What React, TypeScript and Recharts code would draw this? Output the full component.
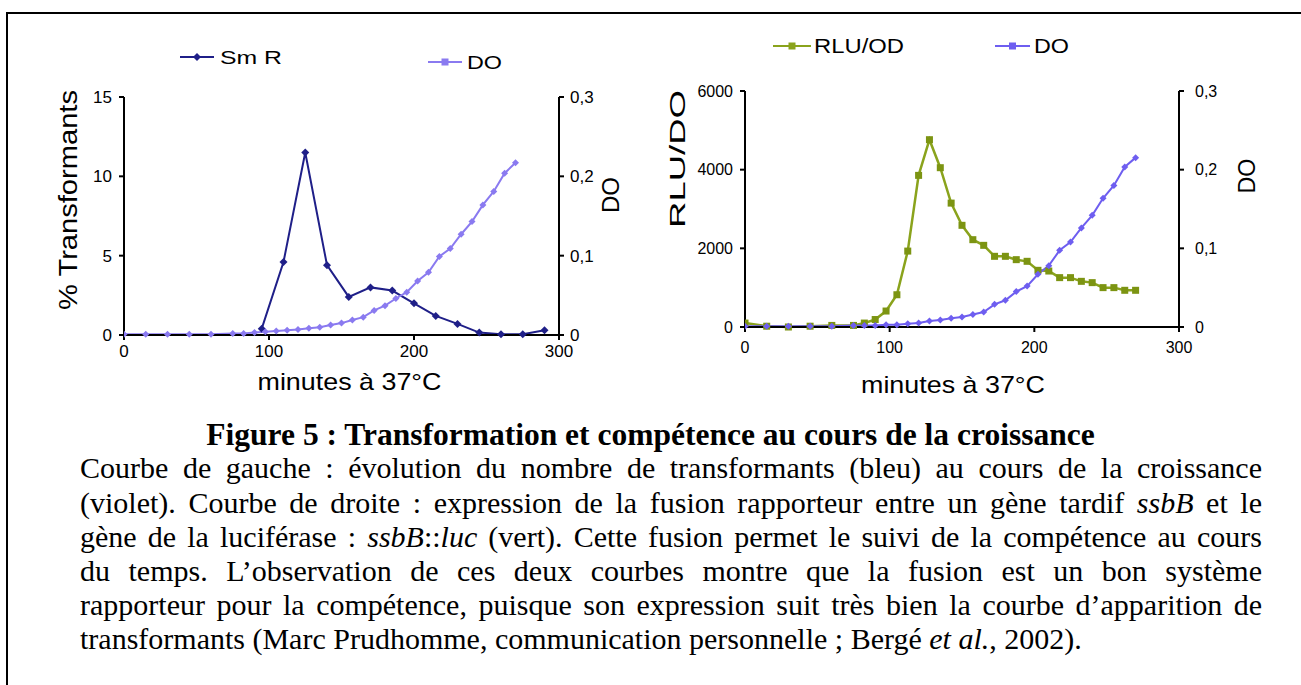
import React from 'react';
import { LineChart, Line, XAxis, YAxis, Legend, Label } from 'recharts';

// ---------- data ----------
const minutesDO = [0, 15, 30, 45, 60, 75, 82.5, 90, 97.5, 105, 112.5, 120, 127.5, 135, 142.5, 150, 157.5, 165, 172.5, 180, 187.5, 195, 202.5, 210, 217.5, 225, 232.5, 240, 247.5, 255, 262.5, 270];
const doLeft = [0.001, 0.001, 0.001, 0.001, 0.001, 0.002, 0.002, 0.003, 0.004, 0.005, 0.006, 0.007, 0.0085, 0.0097, 0.0127, 0.015, 0.019, 0.0225, 0.031, 0.037, 0.046, 0.054, 0.068, 0.079, 0.099, 0.109, 0.127, 0.143, 0.164, 0.181, 0.204, 0.217];
const minutesSmR = [95, 110, 125, 140, 155, 170, 185, 200, 215, 230, 245, 260, 275, 290];
const smR = [0.4, 4.6, 11.5, 4.4, 2.4, 3.0, 2.8, 2.0, 1.2, 0.7, 0.15, 0.05, 0.05, 0.3];
const rluOD = [100, 20, 0, 20, 40, 40, 100, 190, 406, 820, 1930, 3855, 4762, 4050, 3150, 2585, 2220, 2076, 1797, 1797, 1712, 1670, 1441, 1423, 1255, 1255, 1161, 1128, 1001, 1001, 933, 933];
const doRight = [0.001, 0.001, 0.001, 0.001, 0.001, 0.002, 0.002, 0.002, 0.003, 0.003, 0.004, 0.005, 0.0076, 0.009, 0.011, 0.0127, 0.016, 0.019, 0.0288, 0.034, 0.045, 0.052, 0.067, 0.078, 0.0975, 0.108, 0.126, 0.142, 0.1636, 0.18, 0.2034, 0.2153];

const xTicks = [0, 100, 200, 300];
const pctTicks = [0, 5, 10, 15];
const doTicks = [0, 0.1, 0.2, 0.3];
const rluTicks = [0, 2000, 4000, 6000];

const leftSeriesNames = ['Sm R', 'DO'];
const rightSeriesNames = ['RLU/OD', 'DO'];
const xTitle = 'minutes à 37°C';

// ---------- helpers ----------
const zip = (xs: number[], ys: number[]) => xs.map((t, i) => ({ t, v: ys[i] }));
const smRData = zip(minutesSmR, smR);
const doLeftData = zip(minutesDO, doLeft);
const rluData = zip(minutesDO, rluOD);
const doRightData = zip(minutesDO, doRight);

const C_SMR = '#1f1f88';
const C_DOL = '#8a7af0';
const C_DOR = '#6e5ef0';
const C_GREEN = '#8aa31c';
const C_GREEN_M = '#7c9412';

const SANS = '"Liberation Sans", Arial, sans-serif';
const SERIF = '"Liberation Serif", "Times New Roman", serif';

const diamondDot = (color: string, r: number) => (p: any) => {
  const { cx, cy, index } = p;
  if (cx == null || cy == null) return <g key={index} />;
  return <path key={index} d={`M${cx},${cy - r}L${cx + r},${cy}L${cx},${cy + r}L${cx - r},${cy}Z`} fill={color} />;
};
const squareDot = (color: string, r: number) => (p: any) => {
  const { cx, cy, index } = p;
  if (cx == null || cy == null) return <g key={index} />;
  return <rect key={index} x={cx - r} y={cy - r} width={2 * r} height={2 * r} fill={color} />;
};

const comma = (v: number) => String(v).replace('.', ',');

const axisStyle = { stroke: '#000', strokeWidth: 2 };

const vTitle = (text: string, dx: number, dy: number, len: number, fs: number) => (p: any) => {
  const vb = p.viewBox || { x: 0, y: 0, width: 0, height: 0 };
  const x = vb.x + dx;
  const y = vb.y + vb.height / 2 + dy;
  return (
    <text x={x} y={y} transform={`rotate(-90 ${x} ${y})`} textAnchor="middle" dominantBaseline="central"
      fontSize={fs} fontFamily={SANS} fill="#000" textLength={len} lengthAdjust="spacingAndGlyphs">{text}</text>
  );
};
const hTitle = (text: string, dx: number, baseline: number, len: number, fs: number) => (p: any) => {
  const vb = p.viewBox || { x: 0, y: 0, width: 0, height: 0 };
  return (
    <text x={vb.x + vb.width / 2 + dx} y={vb.y + baseline} textAnchor="middle" fontSize={fs} fontFamily={SANS}
      fill="#000" textLength={len} lengthAdjust="spacingAndGlyphs">{text}</text>
  );
};

type LegItem = { name: string; color: string; marker: 'diamond' | 'square'; x1: number; x2: number; y: number; tx: number; ty: number; tl: number; fs: number };
const legendContent = (items: LegItem[]) => () => (
  <svg width={640} height={90} style={{ display: 'block' }}>
    {items.map((it) => {
      const mx = (it.x1 + it.x2) / 2;
      return (
        <g key={it.name + it.x1}>
          <line x1={it.x1} x2={it.x2} y1={it.y} y2={it.y} stroke={it.color} strokeWidth={2} />
          {it.marker === 'diamond'
            ? <path d={`M${mx},${it.y - 4}L${mx + 4},${it.y}L${mx},${it.y + 4}L${mx - 4},${it.y}Z`} fill={it.color} />
            : <rect x={mx - 3.5} y={it.y - 3.5} width={7} height={7} fill={it.color} />}
          <text x={it.tx} y={it.ty} fontSize={it.fs} fontFamily={SANS} fill="#000" textLength={it.tl} lengthAdjust="spacingAndGlyphs">{it.name}</text>
        </g>
      );
    })}
  </svg>
);

const leftLegend: LegItem[] = [
  { name: leftSeriesNames[0], color: C_SMR, marker: 'diamond', x1: 180, x2: 214, y: 57, tx: 220, ty: 64, tl: 62, fs: 19 },
  { name: leftSeriesNames[1], color: C_DOL, marker: 'square', x1: 428, x2: 462, y: 62, tx: 467, ty: 69, tl: 35, fs: 19 },
];
const rightLegend: LegItem[] = [
  { name: rightSeriesNames[0], color: C_GREEN, marker: 'square', x1: 133, x2: 171, y: 46, tx: 174, ty: 53, tl: 90, fs: 21 },
  { name: rightSeriesNames[1], color: C_DOR, marker: 'square', x1: 355, x2: 390, y: 46, tx: 394, ty: 53, tl: 35, fs: 21 },
];

function LeftChart() {
  return (
    <LineChart width={640} height={400} margin={{ top: 97, right: 21, bottom: 35, left: 64 }}>
      <XAxis dataKey="t" type="number" domain={[0, 300]} ticks={xTicks} height={30} allowDataOverflow
        axisLine={axisStyle} tickLine={axisStyle} tickSize={5} tickMargin={5}
        tick={{ fill: '#000', fontSize: 17, fontFamily: SANS }}>
        <Label content={hTitle(xTitle, 8, 55, 184, 24)} />
      </XAxis>
      <YAxis yAxisId="l" type="number" domain={[0, 15]} ticks={pctTicks} width={60}
        axisLine={axisStyle} tickLine={axisStyle} tickSize={5} tickMargin={7}
        tick={{ fill: '#000', fontSize: 17, fontFamily: SANS }}>
        <Label content={vTitle('% Transformants', 4, -16, 220, 25)} />
      </YAxis>
      <YAxis yAxisId="r" orientation="right" type="number" domain={[0, 0.3]} ticks={doTicks} width={60}
        tickFormatter={comma}
        axisLine={axisStyle} tickLine={axisStyle} tickSize={5} tickMargin={6}
        tick={{ fill: '#000', fontSize: 17, fontFamily: SANS }}>
        <Label content={vTitle('DO', 51, -21, 36, 24)} />
      </YAxis>
      <Legend layout="horizontal" verticalAlign="middle" align="center"
        wrapperStyle={{ top: 0, left: 0, width: 640, height: 90 }} content={legendContent(leftLegend)} />
      <Line yAxisId="l" data={smRData} dataKey="v" name={leftSeriesNames[0]} stroke={C_SMR} strokeWidth={2}
        dot={diamondDot(C_SMR, 4)} isAnimationActive={false} />
      <Line yAxisId="r" data={doLeftData} dataKey="v" name={leftSeriesNames[1]} stroke={C_DOL} strokeWidth={2}
        dot={diamondDot(C_DOL, 3.5)} isAnimationActive={false} />
    </LineChart>
  );
}

function RightChart() {
  return (
    <LineChart width={661} height={400} margin={{ top: 91, right: 62, bottom: 43, left: 45 }}>
      <XAxis dataKey="t" type="number" domain={[0, 300]} ticks={xTicks} height={30} allowDataOverflow
        axisLine={axisStyle} tickLine={axisStyle} tickSize={5} tickMargin={10}
        tick={{ fill: '#000', fontSize: 16, fontFamily: SANS }}>
        <Label content={hTitle(xTitle, -9, 66, 184, 24)} />
      </XAxis>
      <YAxis yAxisId="l" type="number" domain={[0, 6000]} ticks={rluTicks} width={60}
        axisLine={axisStyle} tickLine={axisStyle} tickSize={5} tickMargin={7}
        tick={{ fill: '#000', fontSize: 16, fontFamily: SANS }}>
        <Label content={vTitle('RLU/DO', -8, -50, 138, 22)} />
      </YAxis>
      <YAxis yAxisId="r" orientation="right" type="number" domain={[0, 0.3]} ticks={doTicks} width={60}
        tickFormatter={comma}
        axisLine={axisStyle} tickLine={axisStyle} tickSize={5} tickMargin={11}
        tick={{ fill: '#000', fontSize: 16, fontFamily: SANS }}>
        <Label content={vTitle('DO', 67, -33, 35, 24)} />
      </YAxis>
      <Legend layout="horizontal" verticalAlign="middle" align="center"
        wrapperStyle={{ top: 0, left: 0, width: 640, height: 90 }} content={legendContent(rightLegend)} />
      <Line yAxisId="l" data={rluData} dataKey="v" name={rightSeriesNames[0]} stroke={C_GREEN} strokeWidth={2.5}
        dot={squareDot(C_GREEN_M, 3.5)} isAnimationActive={false} />
      <Line yAxisId="r" data={doRightData} dataKey="v" name={rightSeriesNames[1]} stroke={C_DOR} strokeWidth={2}
        dot={diamondDot(C_DOR, 3.5)} isAnimationActive={false} />
    </LineChart>
  );
}

const captionTitle = 'Figure 5 : Transformation et compétence au cours de la croissance';
const captionSize = 30;

const lineStyle = (top: number, justify: boolean): React.CSSProperties => ({
  position: 'absolute', left: 80, width: 1182, top, height: 34, lineHeight: '34px',
  textAlign: justify ? 'justify' : 'left', textAlignLast: justify ? 'justify' : 'left',
  whiteSpace: 'nowrap', fontFamily: SERIF, fontSize: captionSize, color: '#000',
});

export default function App() {
  return (
    <div style={{ position: 'absolute', left: 0, top: 0, width: 1301, height: 685, background: '#fff', overflow: 'hidden' }}>
      <div style={{ position: 'absolute', left: 6, top: 12, width: 1301, height: 700, borderLeft: '2px solid #000', borderTop: '2px solid #000' }} />
      <div style={{ position: 'absolute', left: 0, top: 0 }}><LeftChart /></div>
      <div style={{ position: 'absolute', left: 640, top: 0 }}><RightChart /></div>
      <div style={{ position: 'absolute', left: 0, width: 1301, top: 418, lineHeight: '34px', textAlign: 'center', fontFamily: SERIF, fontWeight: 'bold', fontSize: 31.5, whiteSpace: 'nowrap' }}>{captionTitle}</div>
      <div style={lineStyle(451, true)}>Courbe de gauche : évolution du nombre de transformants (bleu) au cours de la croissance</div>
      <div style={lineStyle(486, true)}>(violet). Courbe de droite : expression de la fusion rapporteur entre un gène tardif <i>ssbB</i> et le</div>
      <div style={lineStyle(520, true)}>gène de la luciférase : <i>ssbB</i>::<i>luc</i> (vert). Cette fusion permet le suivi de la compétence au cours</div>
      <div style={lineStyle(554, true)}>du temps. L’observation de ces deux courbes montre que la fusion est un bon système</div>
      <div style={lineStyle(588, true)}>rapporteur pour la compétence, puisque son expression suit très bien la courbe d’apparition de</div>
      <div style={lineStyle(622, false)}>transformants (Marc Prudhomme, communication personnelle ; Bergé <i>et al.</i>, 2002).</div>
    </div>
  );
}
